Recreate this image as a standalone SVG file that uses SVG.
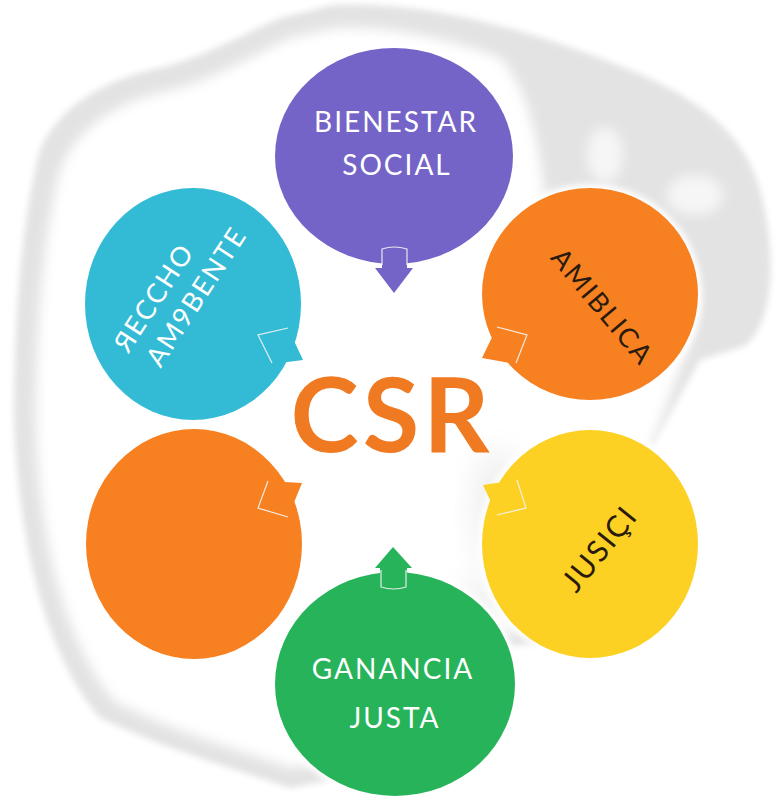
<svg xmlns="http://www.w3.org/2000/svg" width="780" height="800" viewBox="0 0 780 800">
<defs>
<filter id="blur6" x="-20%" y="-20%" width="140%" height="140%"><feGaussianBlur stdDeviation="6"/></filter>
<filter id="blur3" x="-20%" y="-20%" width="140%" height="140%"><feGaussianBlur stdDeviation="3"/></filter>
<filter id="blur16" x="-50%" y="-50%" width="200%" height="200%"><feGaussianBlur stdDeviation="16"/></filter>
<style>
.lbl{font-family:Lato,"Open Sans","Liberation Sans",sans-serif;font-size:28px;letter-spacing:2px;text-anchor:middle}
.tilt{font-size:27px}
.w{fill:#ffffff}
.d{fill:#2a1b0e}
.tailline{fill:none;stroke:#f4f4f4;stroke-width:1.2;opacity:0.9}
.halo{fill:#ffffff;filter:url(#blur3)}
</style>
</defs>
<rect width="780" height="800" fill="#ffffff"/>
<g id="background">
<path d="M333,5 C420,0 520,28 600,58 C680,88 742,122 760,190 C776,250 776,320 745,346 L700,360 L650,450 L560,640 L480,650 L330,780 L290,788 C233,768 167,750 100,718 C45,655 18,540 14,420 C14,300 24,210 40,150 C62,98 120,76 160,68 C200,58 240,36 280,18 Z" fill="#e3e3e3" filter="url(#blur3)"/>
<path d="M336,28 C390,26 450,38 500,58 C530,90 540,150 545,200 C580,205 620,210 650,225 C690,250 705,300 690,340 L650,450 L560,620 L470,640 L320,762 L292,768 C238,750 175,732 115,702 C66,645 38,540 36,420 C36,310 46,225 60,170 C80,120 130,98 172,90 C212,80 252,56 290,38 Z" fill="#ffffff" filter="url(#blur6)"/>
<ellipse cx="605" cy="155" rx="18" ry="28" fill="#f6f6f6" filter="url(#blur6)"/>
<ellipse cx="695" cy="195" rx="28" ry="20" fill="#f6f6f6" filter="url(#blur6)"/>
<ellipse cx="498" cy="510" rx="22" ry="60" fill="#ececec" filter="url(#blur16)"/>
<ellipse cx="480" cy="615" rx="18" ry="35" fill="#e9e9e9" filter="url(#blur16)"/>
</g>
<g id="node-bienestar">
<ellipse class="halo" cx="394" cy="156" rx="123" ry="112"/>
<ellipse cx="394" cy="156" rx="119" ry="108" fill="#7464c7"/>
<text class="lbl w" x="396" y="132">BIENESTAR</text>
<text class="lbl w" x="397" y="175">SOCIAL</text>
</g>
<g id="node-teal">
<ellipse class="halo" cx="193" cy="304" rx="112" ry="120"/>
<ellipse cx="193" cy="304" rx="108" ry="116" fill="#33bbd5"/>
<g transform="translate(175,297) rotate(-57)">
<text class="lbl w tilt" x="-12" y="-8">ЯECCHO</text>
<text class="lbl w tilt" x="12" y="27">AM9BENTE</text>
</g>
</g>
<g id="node-amiblica">
<ellipse class="halo" cx="590" cy="294" rx="112" ry="110"/>
<ellipse cx="590" cy="294" rx="108" ry="106" fill="#f78121"/>
<text class="lbl d tilt" transform="translate(602,307) rotate(50)" y="9">AMIBLICA</text>
</g>
<g id="node-orange-left">
<ellipse class="halo" cx="194" cy="544" rx="112" ry="119"/>
<ellipse cx="194" cy="544" rx="108" ry="115" fill="#f78121"/>
</g>
<g id="node-jusici">
<ellipse class="halo" cx="590" cy="544" rx="112" ry="118"/>
<ellipse cx="590" cy="544" rx="108" ry="114" fill="#fdd123"/>
<text class="lbl d" transform="translate(600,549) rotate(-51)" y="10" style="font-size:30px">JUSIÇI</text>
</g>
<g id="node-ganancia">
<ellipse class="halo" cx="395" cy="684" rx="124" ry="116"/>
<ellipse cx="395" cy="684" rx="120" ry="112" fill="#27b35a"/>
<text class="lbl w" x="393" y="679">GANANCIA</text>
<text class="lbl w" x="395" y="728">JUSTA</text>
</g>
<g id="node-csr">
<text x="392" y="452" text-anchor="middle" style="font-family:Lato,'Open Sans','Liberation Sans',sans-serif;font-size:103px;font-weight:700;letter-spacing:4px;fill:#f07a22">CSR</text>
</g>
<g id="connectors">
<g id="arrow-purple">
<polygon points="382,247 407,247 407,268 413,268 394,293 375,268 382,268" fill="#7464c7"/>
<path class="tailline" d="M382,265 L382,249 Q394,245 407,249 L407,265"/>
</g>
<g id="arrow-green">
<polygon points="393,547 412,568 407,568 407,590 380,590 380,568 375,568" fill="#27b35a"/>
<path class="tailline" d="M381,570 L381,587 Q394,591 406,587 L406,570"/>
</g>
<g id="tail-teal">
<polygon points="258,335 288,328 303,360 272,364" fill="#33bbd5"/>
<path class="tailline" d="M272,363 L258,335 L288,328"/>
</g>
<g id="tail-orange-right">
<polygon points="497,327 527,335 516,364 482,358" fill="#f78121"/>
<path class="tailline" d="M497,327 L527,335 L516,363"/>
</g>
<g id="tail-yellow">
<polygon points="483,485 517,480 526,508 497,515" fill="#fdd123"/>
<path class="tailline" d="M517,480 L526,508 L497,515"/>
</g>
<g id="tail-orange-left">
<polygon points="268,481 302,483 288,517 258,508" fill="#f78121"/>
<path class="tailline" d="M268,481 L258,508 L288,517"/>
</g>
</g>
</svg>
